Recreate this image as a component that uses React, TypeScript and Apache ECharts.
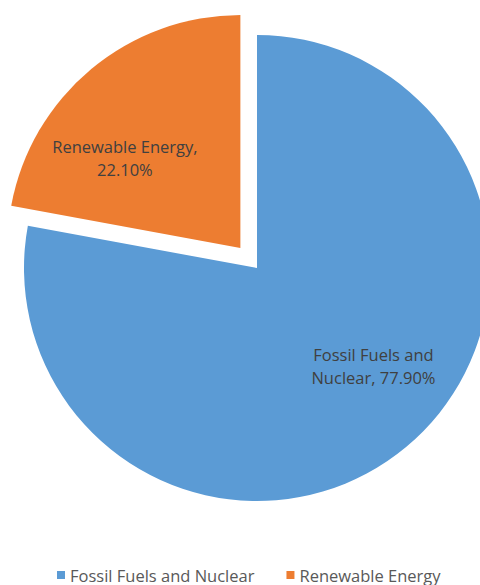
import React, { useEffect, useRef } from "react";
import * as echarts from "echarts";

const categories = ["Fossil Fuels and Nuclear", "Renewable Energy"];
const values = [77.9, 22.1];
const colors = ["#5B9BD5", "#ED7D31"];
const labelShift = [
  [40, 6],
  [-39, 2],
];

export default function App() {
  const ref = useRef<HTMLDivElement>(null);
  useEffect(() => {
    document.body.style.margin = "0";
    const chart = echarts.init(ref.current!, undefined, { renderer: "svg" });
    chart.setOption({
      animation: false,
      backgroundColor: "#ffffff",
      legend: {
        top: 565,
        left: 57,
        padding: 0,
        itemWidth: 8,
        itemHeight: 8,
        itemGap: 32,
        icon: "rect",
        textStyle: { color: "#595959", fontSize: 16.5, fontFamily: "Open Sans", lineHeight: 20 },
        data: categories,
      },
      series: [
        {
          type: "pie",
          center: [257, 268],
          radius: [0, 233],
          startAngle: 90,
          clockwise: true,
          selectedMode: "single",
          selectedOffset: 26,
          avoidLabelOverlap: false,
          label: {
            show: true,
            position: "inside",
            color: "#404040",
            fontSize: 16.5,
            lineHeight: 23,
            fontFamily: "Open Sans",
            formatter: (p: any) =>
              p.dataIndex === 0
                ? "Fossil Fuels and\nNuclear, " + p.value.toFixed(2) + "%"
                : "Renewable Energy,\n" + p.value.toFixed(2) + "%",
          },
          labelLayout: (p: any) => ({
            dx: labelShift[p.dataIndex][0],
            dy: labelShift[p.dataIndex][1],
          }),
          emphasis: { disabled: true },
          data: categories.map((c, i) => ({
            name: c,
            value: values[i],
            selected: i === 1,
            itemStyle: { color: colors[i] },
          })),
        },
      ],
    });
    return () => chart.dispose();
  }, []);
  return <div ref={ref} style={{ width: 480, height: 585 }} />;
}
